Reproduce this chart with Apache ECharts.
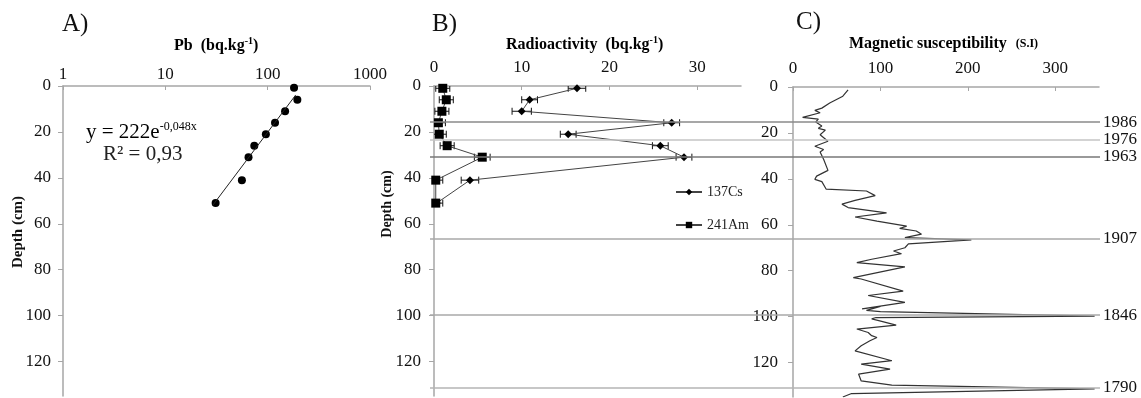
<!DOCTYPE html>
<html>
<head>
<meta charset="utf-8">
<script src="https://cdn.jsdelivr.net/npm/echarts@6/dist/echarts.min.js"></script>
<style>
  html, body { margin: 0; padding: 0; background: #fff; }
  #chart { width: 1141px; height: 398px; }
</style>
</head>
<body>
<div id="chart"></div>
<script>
// A) Pb profile (log scale)
const pbDepth = [0.8, 6, 11, 16, 21, 26, 31, 41, 51];
const pbValue = [181, 195, 148, 118, 96, 74, 65, 56, 31];
const pbTrendDepth = [3.9, 52];
const pbTrendValue = [188, 29];

// B) radioactivity
const radioDepth = [1, 6, 11, 16, 21, 26, 31, 41, 51];
const cs137 = [16.3, 10.9, 10.0, 27.1, 15.3, 25.8, 28.5, 4.1, 0.3];
const cs137Err = [1.0, 0.9, 1.1, 0.9, 0.9, 0.9, 0.9, 1.0, 0];
const am241 = [1.0, 1.4, 0.9, 0.5, 0.6, 1.5, 5.5, 0.2, 0.2];
const am241Err = [0.8, 0.8, 0.8, 0.8, 0.8, 0.8, 0.9, 0.8, 0.8];

// C) magnetic susceptibility
const magDepth = [1.3, 4, 7, 9.2, 10.2, 11.2, 13.2, 14, 15.2, 17, 18, 18.8, 20.8, 23.6, 25.8, 27.2, 28.3,
  31.5, 36.3, 38.8, 40.2, 41.2, 44.5, 45.3, 47.3, 49.4, 51, 52.5, 54.8, 56.6, 58.4, 60.6, 61.6, 62.7,
  64.1, 65.6, 66.6, 68.3, 70, 71.4, 72.6, 75, 76.5, 78.3, 83, 83.6, 88.9, 90.8, 93.8, 96.6, 95.6, 97.3,
  97.8, 99.8, 100.4, 101, 101.6, 103.7, 105.4, 106.9, 108.3, 109.1, 110.5, 112.7, 114.9, 119.2, 120.7,
  122.9, 125, 128, 129.8, 131.5, 133.5, 135];
const magValue = [63, 57, 42, 33, 25, 31, 11, 29, 26, 33, 29, 37, 31, 40, 25, 35, 31,
  35, 40, 27, 25, 33, 38, 84, 94, 71, 56, 63, 107, 71, 96, 130, 122, 141,
  147, 128, 204, 132, 128, 115, 124, 90, 73, 128, 69, 78, 126, 86, 128, 79, 100, 84,
  100, 345, 95, 90, 97, 118, 73, 86, 90, 96, 88, 78, 71, 113, 78,
  111, 75, 78, 113, 345, 67, 57];

// dated horizons
const horizonDepth = [15.7, 23.5, 30.9, 66.6, 99.8, 131.4];
const horizonLabel = ['1986', '1976', '1963', '1907', '1846', '1790'];
const horizonColor = ['#8a8a8a', '#c4c4c4', '#777777', '#a8a8a8', '#a8a8a8', '#b4b4b4'];

const serif = 'Liberation Serif';
const axisGray = '#a6a6a6';

const zip = (xs, ys) => xs.map((x, i) => [x, ys[i]]);

function depthAxis(gridIndex, margin) {
  return {
    type: 'value', gridIndex, inverse: true, min: 0, max: 135, interval: 20,
    axisLine: { show: true, lineStyle: { color: axisGray, width: 1.5 } },
    axisTick: { show: true, length: 5, lineStyle: { color: axisGray } },
    axisLabel: { margin, fontFamily: serif, fontSize: 17, color: '#111', showMaxLabel: false },
    splitLine: { show: false }
  };
}

function errorBars(values, errs) {
  return values.map((v, i) => [v, radioDepth[i], errs[i]]);
}

function renderErr(params, api) {
  const v = api.value(0), d = api.value(1), e = api.value(2);
  if (!e) return null;
  const p1 = api.coord([v - e, d]);
  const p2 = api.coord([v + e, d]);
  const h = 3.5;
  const st = { stroke: '#111', lineWidth: 1 };
  return {
    type: 'group',
    children: [
      { type: 'line', shape: { x1: p1[0], y1: p1[1], x2: p2[0], y2: p2[1] }, style: st },
      { type: 'line', shape: { x1: p1[0], y1: p1[1] - h, x2: p1[0], y2: p1[1] + h }, style: st },
      { type: 'line', shape: { x1: p2[0], y1: p2[1] - h, x2: p2[0], y2: p2[1] + h }, style: st }
    ]
  };
}

const titleRich = {
  b: { fontFamily: serif, fontSize: 16, fontWeight: 'bold', color: '#111', lineHeight: 20 },
  s: { fontFamily: serif, fontSize: 10, fontWeight: 'bold', color: '#111', lineHeight: 11, verticalAlign: 'top' },
  si: { fontFamily: serif, fontSize: 12, fontWeight: 'bold', color: '#1f5fa8', lineHeight: 20 }
};

const chart = echarts.init(document.getElementById('chart'), null, { renderer: 'canvas' });

chart.setOption({
  animation: false,
  backgroundColor: '#fff',
  grid: [
    { left: 63, top: 86, width: 307, height: 310 },
    { left: 434, top: 86, width: 307, height: 310 },
    { left: 793, top: 87, width: 306, height: 310 },
    { left: 430, top: 86, width: 670, height: 310 }
  ],
  xAxis: [
    {
      type: 'log', logBase: 10, gridIndex: 0, position: 'top', min: 1, max: 1000,
      axisLine: { show: true, lineStyle: { color: axisGray, width: 1.5 } },
      axisTick: { show: true, inside: true, length: 4, lineStyle: { color: axisGray } },
      axisLabel: { margin: 3, fontFamily: serif, fontSize: 17, color: '#111', formatter: (v) => String(v) },
      splitLine: { show: false }, minorTick: { show: false }
    },
    {
      type: 'value', gridIndex: 1, position: 'top', min: 0, max: 35, interval: 10,
      axisLine: { show: true, lineStyle: { color: axisGray, width: 1.5 } },
      axisTick: { show: true, inside: true, length: 4, lineStyle: { color: axisGray } },
      axisLabel: { margin: 10, fontFamily: serif, fontSize: 17, color: '#111', showMaxLabel: false },
      splitLine: { show: false }
    },
    {
      type: 'value', gridIndex: 2, position: 'top', min: 0, max: 350, interval: 100,
      axisLine: { show: true, lineStyle: { color: axisGray, width: 1.5 } },
      axisTick: { show: true, inside: true, length: 4, lineStyle: { color: axisGray } },
      axisLabel: { margin: 10, fontFamily: serif, fontSize: 17, color: '#111', showMaxLabel: false },
      splitLine: { show: false }
    },
    { type: 'value', gridIndex: 3, min: 0, max: 1, show: false }
  ],
  yAxis: [
    depthAxis(0, 12),
    depthAxis(1, 13),
    depthAxis(2, 15),
    { type: 'value', gridIndex: 3, inverse: true, min: 0, max: 135, show: false }
  ],
  legend: {
    data: ['137Cs', '241Am'],
    orient: 'vertical',
    left: 670, top: 180,
    itemWidth: 26, itemHeight: 8, itemGap: 19,
    textStyle: { fontFamily: serif, fontSize: 14, color: '#222' }
  },
  graphic: [
    { type: 'text', left: 62, top: 12, style: { text: 'A)', font: '25px "Liberation Serif"', fill: '#111' } },
    { type: 'text', left: 432, top: 12, style: { text: 'B)', font: '25px "Liberation Serif"', fill: '#111' } },
    { type: 'text', left: 796, top: 10, style: { text: 'C)', font: '25px "Liberation Serif"', fill: '#111' } },
    { type: 'text', left: 174, top: 36, style: { text: '{b|Pb  (bq.kg}{s|-1}{b|)}', rich: titleRich } },
    { type: 'text', left: 506, top: 35, style: { text: '{b|Radioactivity  (bq.kg}{s|-1}{b|)}', rich: titleRich } },
    { type: 'text', left: 849, top: 36, style: { text: '{b|Magnetic susceptibility}{si|   (S.I)}', rich: titleRich } },
    {
      type: 'text', x: 18, y: 232, rotation: Math.PI / 2,
      style: { text: 'Depth (cm)', font: 'bold 15px "Liberation Serif"', fill: '#111', align: 'center', verticalAlign: 'middle' }
    },
    {
      type: 'text', x: 387, y: 204, rotation: Math.PI / 2,
      style: { text: 'Depth (cm)', font: 'bold 14px "Liberation Serif"', fill: '#111', align: 'center', verticalAlign: 'middle' }
    },
    {
      type: 'text', left: 86, top: 121,
      style: {
        text: '{m|y = 222e}{p|-0,048x}',
        rich: {
          m: { fontFamily: serif, fontSize: 21, color: '#222', lineHeight: 23 },
          p: { fontFamily: serif, fontSize: 12, color: '#222', lineHeight: 12, verticalAlign: 'top' }
        }
      }
    },
    { type: 'text', left: 103, top: 144, style: { text: 'R² = 0,93', font: '21px "Liberation Serif"', fill: '#222' } }
  ],
  series: [
    {
      name: 'Pb', type: 'scatter', xAxisIndex: 0, yAxisIndex: 0,
      data: zip(pbValue, pbDepth), symbol: 'circle', symbolSize: 8,
      itemStyle: { color: '#000', opacity: 1 }
    },
    {
      name: 'trend', type: 'line', xAxisIndex: 0, yAxisIndex: 0,
      data: zip(pbTrendValue, pbTrendDepth), showSymbol: false, symbol: 'none',
      lineStyle: { color: '#222', width: 1 }
    },
    {
      name: 'horizons', type: 'line', xAxisIndex: 3, yAxisIndex: 3, data: [],
      markLine: {
        silent: true, symbol: 'none',
        data: horizonDepth.map((d, i) => ({
          yAxis: d, name: horizonLabel[i],
          lineStyle: { color: horizonColor[i], width: 1.5, type: 'solid' }
        })),
        label: {
          show: true, position: 'end', formatter: '{b}', distance: 3,
          fontFamily: serif, fontSize: 17, color: '#111'
        }
      }
    },
    {
      name: 'csErr', type: 'custom', xAxisIndex: 1, yAxisIndex: 1, clip: true,
      data: errorBars(cs137, cs137Err), renderItem: renderErr, z: 3
    },
    {
      name: 'amErr', type: 'custom', xAxisIndex: 1, yAxisIndex: 1, clip: true,
      data: errorBars(am241, am241Err), renderItem: renderErr, z: 3
    },
    {
      name: '137Cs', type: 'line', xAxisIndex: 1, yAxisIndex: 1,
      data: zip(cs137, radioDepth), symbol: 'diamond', symbolSize: 8,
      lineStyle: { color: '#444', width: 1 }, itemStyle: { color: '#000' }, z: 4
    },
    {
      name: '241Am', type: 'line', xAxisIndex: 1, yAxisIndex: 1,
      data: zip(am241, radioDepth), symbol: 'rect', symbolSize: 9,
      lineStyle: { color: '#444', width: 1 }, itemStyle: { color: '#000' }, z: 4
    },
    {
      name: 'mag', type: 'line', xAxisIndex: 2, yAxisIndex: 2,
      data: zip(magValue, magDepth), showSymbol: false, symbol: 'none',
      lineStyle: { color: '#333', width: 1.2 }
    }
  ]
});
</script>
</body>
</html>
